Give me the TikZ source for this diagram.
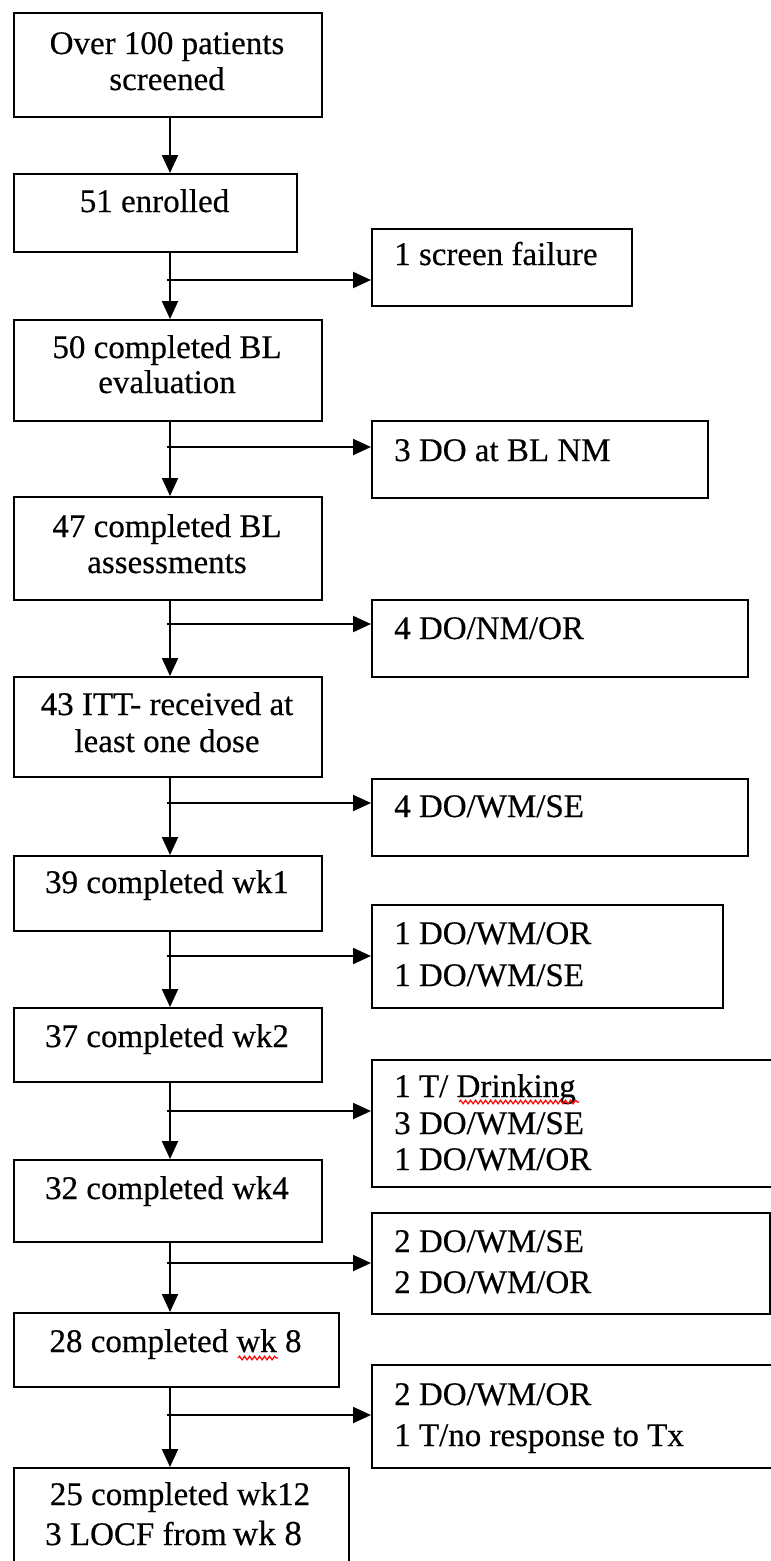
\documentclass[tikz,border=0pt]{standalone}
\usepackage{fontspec}
\setmainfont{Liberation Serif}[FakeBold=0.4]
\newfontfamily\plainserif{Liberation Serif}[FakeBold=0.3]
\usetikzlibrary{arrows.meta,decorations.pathmorphing}
\begin{document}
\begin{tikzpicture}[x=1pt,y=-1pt,
  box/.style={draw, line width=2.4pt, inner sep=0pt, anchor=north west},
  txt/.style={inner sep=0pt, anchor=base, font=\fontsize{33}{37}\selectfont},
  ltxt/.style={txt, anchor=base west},
  arr/.style={line width=2.2pt, -{Triangle[length=18pt,width=16pt]}},
  wavy/.style={red, line width=1.2pt, decorate, decoration={snake, amplitude=1.8pt, segment length=5pt}}]
\clip (0,0) rectangle (771,1561);
\coordinate (spine) at (170,0);
% main column
\node[box, minimum width=308pt, minimum height=104pt] (m1) at (13,12) {};
\node[txt] (m1a) at (167,54) {Over 100 patients};
\node[txt] (m1b) at (167,90) {screened};
\node[box, minimum width=283pt, minimum height=78pt] (m2) at (13,173) {};
\node[txt] (m2a) at (154.5,212) {51 enrolled};
\node[box, minimum width=308pt, minimum height=101pt] (m3) at (13,319) {};
\node[txt] (m3a) at (167,358) {50 completed BL};
\node[txt] (m3b) at (167,393) {evaluation};
\node[box, minimum width=308pt, minimum height=103pt] (m4) at (13,496) {};
\node[txt] (m4a) at (167,537) {47 completed BL};
\node[txt] (m4b) at (167,573) {assessments};
\node[box, minimum width=308pt, minimum height=100pt] (m5) at (13,676) {};
\node[txt] (m5a) at (167,715) {43 ITT- received at};
\node[txt] (m5b) at (167,752) {least one dose};
\node[box, minimum width=308pt, minimum height=75pt] (m6) at (13,855) {};
\node[txt] (m6a) at (167,893) {39 completed wk1};
\node[box, minimum width=308pt, minimum height=74pt] (m7) at (13,1007) {};
\node[txt] (m7a) at (167,1047) {37 completed wk2};
\node[box, minimum width=308pt, minimum height=82pt] (m8) at (13,1159) {};
\node[txt] (m8a) at (167,1199) {32 completed wk4};
\node[box, minimum width=325pt, minimum height=74pt] (m9) at (13,1312) {};
\node[txt] (m9a) at (175.5,1352) {28 completed wk 8};
\node[box, minimum width=335pt, minimum height=115pt] (m10) at (13,1467) {};
\node[txt] (m10a) at (180,1505) {25 completed wk12};
\node[ltxt] (m10b) at (45,1545) {3 LOCF from};
\node[txt, anchor=base west, font=\plainserif\fontsize{35}{37}\selectfont] (m10c) at (m10b.base east) {\,wk 8};
% side column
\node[box, minimum width=260pt, minimum height=77pt] (s1) at (371,228) {};
\node[ltxt] (s1a) at (394,265) {1 screen failure};
\node[box, minimum width=336pt, minimum height=77pt] (s2) at (371,420) {};
\node[ltxt] (s2a) at (394,461) {3 DO at BL NM};
\node[box, minimum width=376pt, minimum height=77pt] (s3) at (371,599) {};
\node[ltxt] (s3a) at (394,639) {4 DO/NM/OR};
\node[box, minimum width=376pt, minimum height=77pt] (s4) at (371,778) {};
\node[ltxt] (s4a) at (394,817) {4 DO/WM/SE};
\node[box, minimum width=351pt, minimum height=103pt] (s5) at (371,904) {};
\node[ltxt] (s5a) at (394,944) {1 DO/WM/OR};
\node[ltxt] (s5b) at (394,986) {1 DO/WM/SE};
\node[box, minimum width=404pt, minimum height=127pt] (s6) at (371,1059) {};
\node[ltxt] (s6a) at (394,1097) {1 T/ Drinking};
\node[ltxt] (s6b) at (394,1134) {3 DO/WM/SE};
\node[ltxt] (s6c) at (394,1170) {1 DO/WM/OR};
\node[box, minimum width=398pt, minimum height=101pt] (s7) at (371,1212) {};
\node[ltxt] (s7a) at (394,1252) {2 DO/WM/SE};
\node[ltxt] (s7b) at (394,1293) {2 DO/WM/OR};
\node[box, minimum width=404pt, minimum height=103pt] (s8) at (371,1364) {};
\node[ltxt] (s8a) at (394,1405) {2 DO/WM/OR};
\node[ltxt] (s8b) at (394,1446) {1 T/no response to Tx};
% spell-check marks
\draw[wavy] (238,1358) -- (278,1358);
\draw[wavy] (459,1102) -- (579,1102);
% vertical connectors
\draw[arr] (m1.south -| spine) -- (m2.north -| spine);
\draw[arr] (m2.south -| spine) -- (m3.north -| spine);
\draw[arr] (m3.south -| spine) -- (m4.north -| spine);
\draw[arr] (m4.south -| spine) -- (m5.north -| spine);
\draw[arr] (m5.south -| spine) -- (m6.north -| spine);
\draw[arr] (m6.south -| spine) -- (m7.north -| spine);
\draw[arr] (m7.south -| spine) -- (m8.north -| spine);
\draw[arr] (m8.south -| spine) -- (m9.north -| spine);
\draw[arr] (m9.south -| spine) -- (m10.north -| spine);
% branches
\coordinate (b1) at (167,280);
\coordinate (b2) at (167,447);
\coordinate (b3) at (167,624);
\coordinate (b4) at (167,803);
\coordinate (b5) at (167,956);
\coordinate (b6) at (167,1111);
\coordinate (b7) at (167,1263);
\coordinate (b8) at (167,1415);
\draw[arr] (b1) -- (b1 -| s1.west);
\draw[arr] (b2) -- (b2 -| s2.west);
\draw[arr] (b3) -- (b3 -| s3.west);
\draw[arr] (b4) -- (b4 -| s4.west);
\draw[arr] (b5) -- (b5 -| s5.west);
\draw[arr] (b6) -- (b6 -| s6.west);
\draw[arr] (b7) -- (b7 -| s7.west);
\draw[arr] (b8) -- (b8 -| s8.west);
\end{tikzpicture}
\end{document}
